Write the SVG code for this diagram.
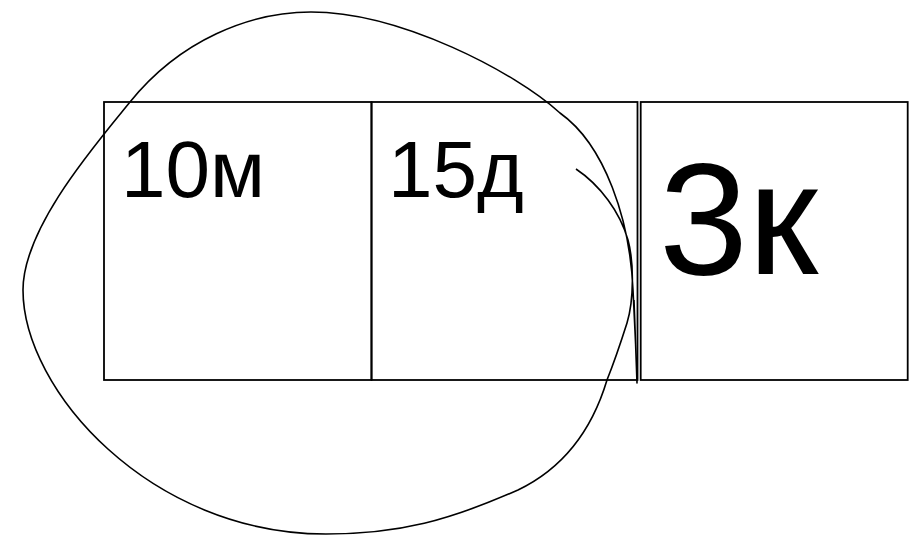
<svg xmlns="http://www.w3.org/2000/svg" width="916" height="537" viewBox="0 0 916 537">
<style>
.box{fill:none;stroke:#000;stroke-width:1.8}
.lbl{font-family:"Liberation Sans",Arial,sans-serif;fill:#000}
.loop{fill:none;stroke:#000;stroke-width:1.6;stroke-linejoin:round}
</style>
<rect width="916" height="537" fill="#fff"/>
<g id="box-10m">
<rect class="box" x="104" y="102" width="267.5" height="278"/>
<text class="lbl" x="121" y="197" font-size="80">10м</text>
</g>
<g id="box-15d">
<rect class="box" x="371.5" y="102" width="266" height="278"/>
<text class="lbl" x="388" y="197" font-size="80">15д</text>
</g>
<g id="box-3k">
<rect class="box" x="640.7" y="102" width="267" height="278"/>
<text class="lbl" x="659" y="274" font-size="160">3к</text>
</g>
<g id="connectors">
<path class="loop" d="M576,169 C600,185 620,212 628,240 C634,262 634,300 627,323 C620,345 613,365 607,380 C595,420 570,465 518,490 C450,520 400,534 326,534 C150,534 23,390 23,290 C23,228 95,145 130,102 C180,40 250,12 311,12 C400,12 515,72 560,113 C605,145 630,220 633,290 C635,330 637,370 637,383 C636,360 635,330 634,300"/>
</g>
</svg>
